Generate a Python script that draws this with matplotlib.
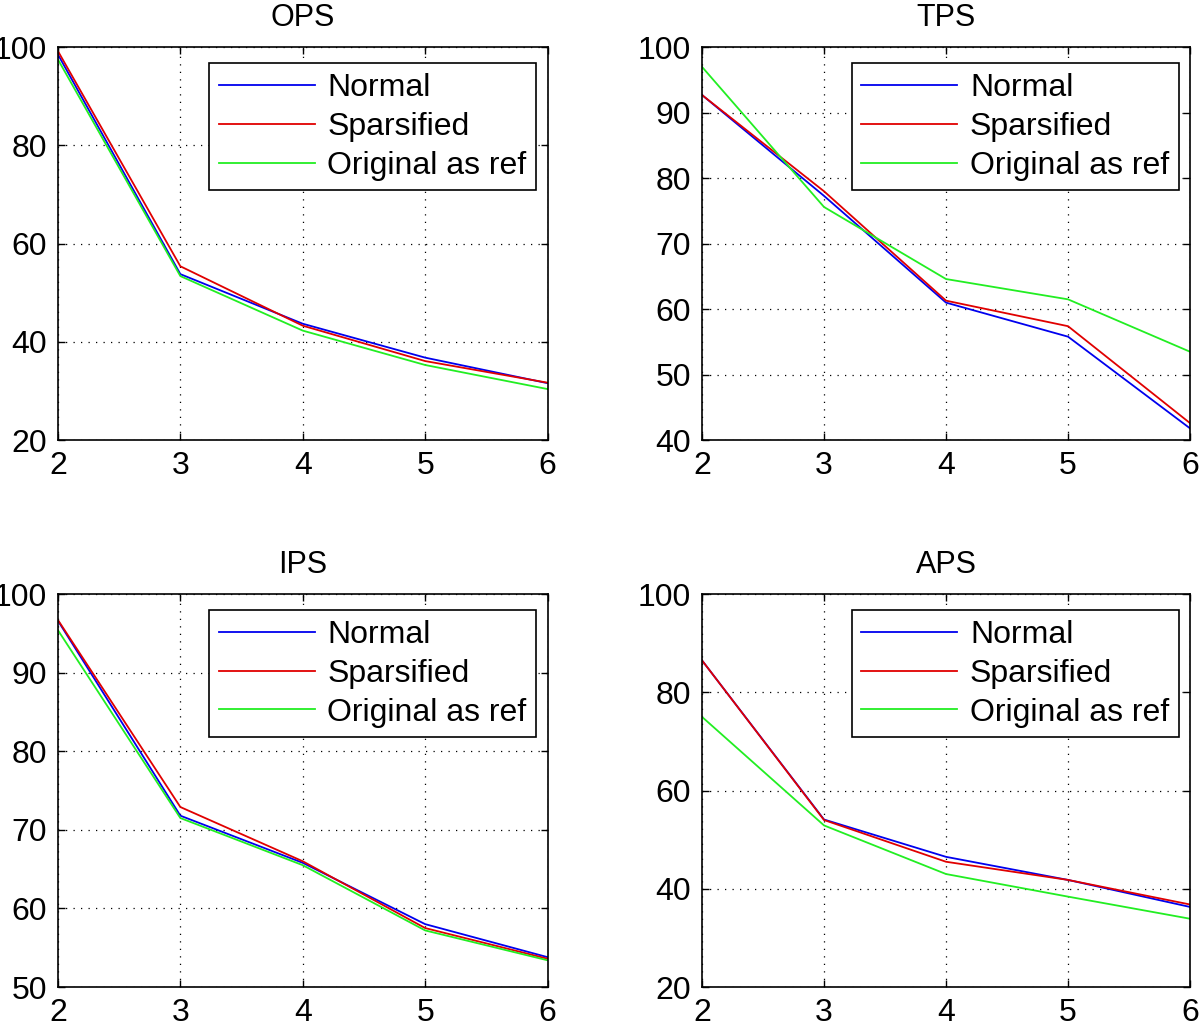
import matplotlib
matplotlib.use("Agg")
import matplotlib.pyplot as plt

plt.rcParams["font.family"] = ["Liberation Sans", "DejaVu Sans"]

x = [2, 3, 4, 5, 6]
series_names = ["Normal", "Sparsified", "Original as ref"]
colors = ["#0000ee", "#e00000", "#22ee22"]

# values
ops = {
    "Normal": [98.5, 53.8, 43.7, 36.8, 31.6],
    "Sparsified": [99.2, 55.4, 43.3, 36.1, 31.7],
    "Original as ref": [97.5, 53.4, 42.3, 35.3, 30.4],
}
tps = {
    "Normal": [92.7, 77.3, 61.0, 55.8, 41.8],
    "Sparsified": [92.7, 78.0, 61.3, 57.4, 42.6],
    "Original as ref": [97.0, 75.6, 64.6, 61.5, 53.5],
}
ips = {
    "Normal": [96.6, 71.8, 65.8, 58.0, 53.8],
    "Sparsified": [96.7, 72.9, 66.0, 57.5, 53.6],
    "Original as ref": [95.4, 71.5, 65.5, 57.2, 53.4],
}
aps = {
    "Normal": [86.5, 54.1, 46.5, 41.8, 36.3],
    "Sparsified": [86.5, 54.0, 45.5, 41.8, 36.8],
    "Original as ref": [75.0, 52.9, 43.0, 38.4, 33.9],
}

panels = [
    ("OPS", ops, (20, 100), [20, 40, 60, 80, 100]),
    ("TPS", tps, (40, 100), [40, 50, 60, 70, 80, 90, 100]),
    ("IPS", ips, (50, 100), [50, 60, 70, 80, 90, 100]),
    ("APS", aps, (20, 100), [20, 40, 60, 80, 100]),
]

positions = [
    [0.0483, 0.571, 0.408, 0.383],
    [0.585, 0.571, 0.4067, 0.383],
    [0.0483, 0.038, 0.408, 0.383],
    [0.585, 0.038, 0.4067, 0.383],
]

fig = plt.figure(figsize=(12, 10.26), dpi=100)

for (title, data, ylim, yticks), pos in zip(panels, positions):
    ax = fig.add_axes(pos)
    for name, c in zip(series_names, colors):
        ax.plot(x, data[name], color=c, linewidth=1.3, label=name)
    ax.set_xlim(2, 6)
    ax.set_ylim(*ylim)
    ax.set_xticks(x)
    ax.set_yticks(yticks)
    ax.set_title(title, fontsize=22, pad=15)
    ax.tick_params(direction="in", top=True, right=True, labelsize=23,
                   length=5, width=1, pad=8)
    ax.grid(True, color="black", linestyle=(0, (1, 5)), linewidth=0.9)
    for s in ax.spines.values():
        s.set_linewidth(1.2)
    leg = ax.legend(loc="upper right", bbox_to_anchor=(0.977, 0.959),
                    fontsize=23, frameon=True, fancybox=False,
                    edgecolor="black", framealpha=1, handlelength=3.0,
                    handletextpad=0.4, borderpad=0.3, labelspacing=0.28,
                    borderaxespad=0)
    leg.get_frame().set_linewidth(1.2)

fig.savefig("out.png", dpi=100)
